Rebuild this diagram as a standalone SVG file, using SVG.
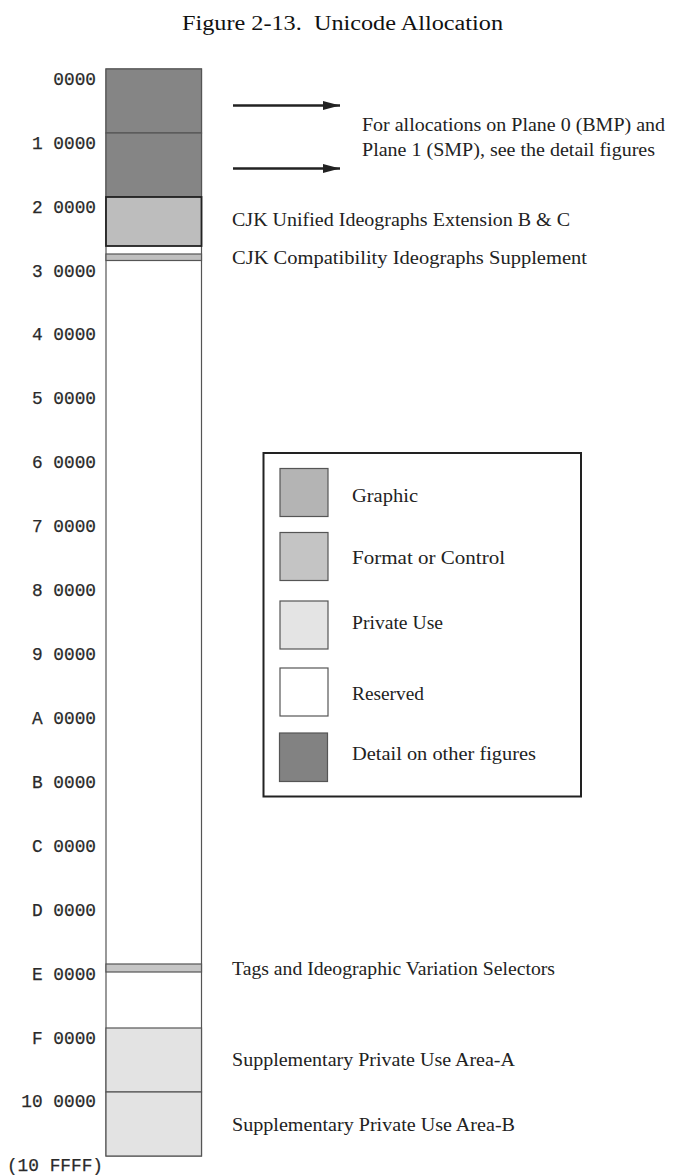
<svg xmlns="http://www.w3.org/2000/svg" width="675" height="1175" viewBox="0 0 675 1175">
<style>
.addr{font-family:"Liberation Mono","Courier New",monospace;font-size:17.8px;fill:#2a2a2a;stroke:#2a2a2a;stroke-width:0.25;text-anchor:end}
.lbl{font-family:"Liberation Serif","Times New Roman",serif;font-size:18.5px;fill:#222}
.ttl{font-family:"Liberation Serif","Times New Roman",serif;font-size:20px;fill:#111}
.blk{stroke:#555;stroke-width:1.2}
.sw{stroke:#555;stroke-width:1.2}
</style>
<defs>
<marker id="ah" viewBox="0 0 17 9" refX="17" refY="4.5" markerWidth="17" markerHeight="9" markerUnits="userSpaceOnUse" orient="auto">
<path d="M0,0 L17,4.5 L0,9 Z" fill="#222"/>
</marker>
</defs>
<rect width="675" height="1175" fill="#fff"/>
<text class="ttl" x="182" y="30" xml:space="preserve" textLength="321" lengthAdjust="spacingAndGlyphs">Figure 2-13.  Unicode Allocation</text>

<g id="column">
<rect x="106" y="69" width="95.5" height="1087" fill="#fff" stroke="#555" stroke-width="1.2"/>
<rect class="blk" x="106" y="69" width="95.5" height="64" fill="#858585"/>
<rect class="blk" x="106" y="133" width="95.5" height="64" fill="#858585"/>
<rect x="106" y="197" width="95.5" height="49" fill="#bdbdbd" stroke="#222" stroke-width="1.8"/>
<rect class="blk" x="106" y="254" width="95.5" height="6.5" fill="#bfbfbf"/>
<rect class="blk" x="106" y="964" width="95.5" height="8" fill="#c6c6c6"/>
<rect class="blk" x="106" y="1028" width="95.5" height="64" fill="#e3e3e3"/>
<rect class="blk" x="106" y="1092" width="95.5" height="64" fill="#e3e3e3"/>
</g>

<g id="addresses">
<text class="addr" x="96" y="85">0000</text>
<text class="addr" x="96" y="148.5">1 0000</text>
<text class="addr" x="96" y="212.5">2 0000</text>
<text class="addr" x="96" y="276.5">3 0000</text>
<text class="addr" x="96" y="340">4 0000</text>
<text class="addr" x="96" y="404">5 0000</text>
<text class="addr" x="96" y="468">6 0000</text>
<text class="addr" x="96" y="532">7 0000</text>
<text class="addr" x="96" y="596">8 0000</text>
<text class="addr" x="96" y="660">9 0000</text>
<text class="addr" x="96" y="723.5">A 0000</text>
<text class="addr" x="96" y="787.5">B 0000</text>
<text class="addr" x="96" y="851.5">C 0000</text>
<text class="addr" x="96" y="915.5">D 0000</text>
<text class="addr" x="96" y="979.5">E 0000</text>
<text class="addr" x="96" y="1043.5">F 0000</text>
<text class="addr" x="96" y="1107">10 0000</text>
<text class="addr" x="103" y="1171">(10 FFFF)</text>
</g>

<g id="connectors">
<line x1="233" y1="105.5" x2="340" y2="105.5" stroke="#222" stroke-width="2.5" marker-end="url(#ah)"/>
<line x1="233" y1="168.5" x2="340" y2="168.5" stroke="#222" stroke-width="2.5" marker-end="url(#ah)"/>
</g>

<g id="notes">
<text class="lbl" x="362" y="131" textLength="303" lengthAdjust="spacingAndGlyphs">For allocations on Plane 0 (BMP) and</text>
<text class="lbl" x="362" y="156" textLength="293" lengthAdjust="spacingAndGlyphs">Plane 1 (SMP), see the detail figures</text>
<text class="lbl" x="232" y="226" textLength="338" lengthAdjust="spacingAndGlyphs">CJK Unified Ideographs Extension B &amp; C</text>
<text class="lbl" x="232" y="264" textLength="355" lengthAdjust="spacingAndGlyphs">CJK Compatibility Ideographs Supplement</text>
<text class="lbl" x="232" y="975" textLength="323" lengthAdjust="spacingAndGlyphs">Tags and Ideographic Variation Selectors</text>
<text class="lbl" x="232" y="1066" textLength="283" lengthAdjust="spacingAndGlyphs">Supplementary Private Use Area-A</text>
<text class="lbl" x="232" y="1131" textLength="283" lengthAdjust="spacingAndGlyphs">Supplementary Private Use Area-B</text>
</g>

<g id="legend">
<rect x="263.5" y="453" width="317.5" height="343.5" fill="#fff" stroke="#222" stroke-width="2"/>
<rect class="sw" x="280" y="468.5" width="48" height="48" fill="#b4b4b4"/>
<text class="lbl" x="352" y="502" textLength="66" lengthAdjust="spacingAndGlyphs">Graphic</text>
<rect class="sw" x="280" y="532.5" width="48" height="48" fill="#c4c4c4"/>
<text class="lbl" x="352" y="564" textLength="153" lengthAdjust="spacingAndGlyphs">Format or Control</text>
<rect class="sw" x="280" y="601" width="48" height="48" fill="#e4e4e4"/>
<text class="lbl" x="352" y="629" textLength="91" lengthAdjust="spacingAndGlyphs">Private Use</text>
<rect class="sw" x="280" y="668" width="48" height="48" fill="#fff"/>
<text class="lbl" x="352" y="700" textLength="72" lengthAdjust="spacingAndGlyphs">Reserved</text>
<rect class="sw" x="279.5" y="733" width="48" height="48.5" fill="#828282"/>
<text class="lbl" x="352" y="760" textLength="184" lengthAdjust="spacingAndGlyphs">Detail on other figures</text>
</g>
</svg>
